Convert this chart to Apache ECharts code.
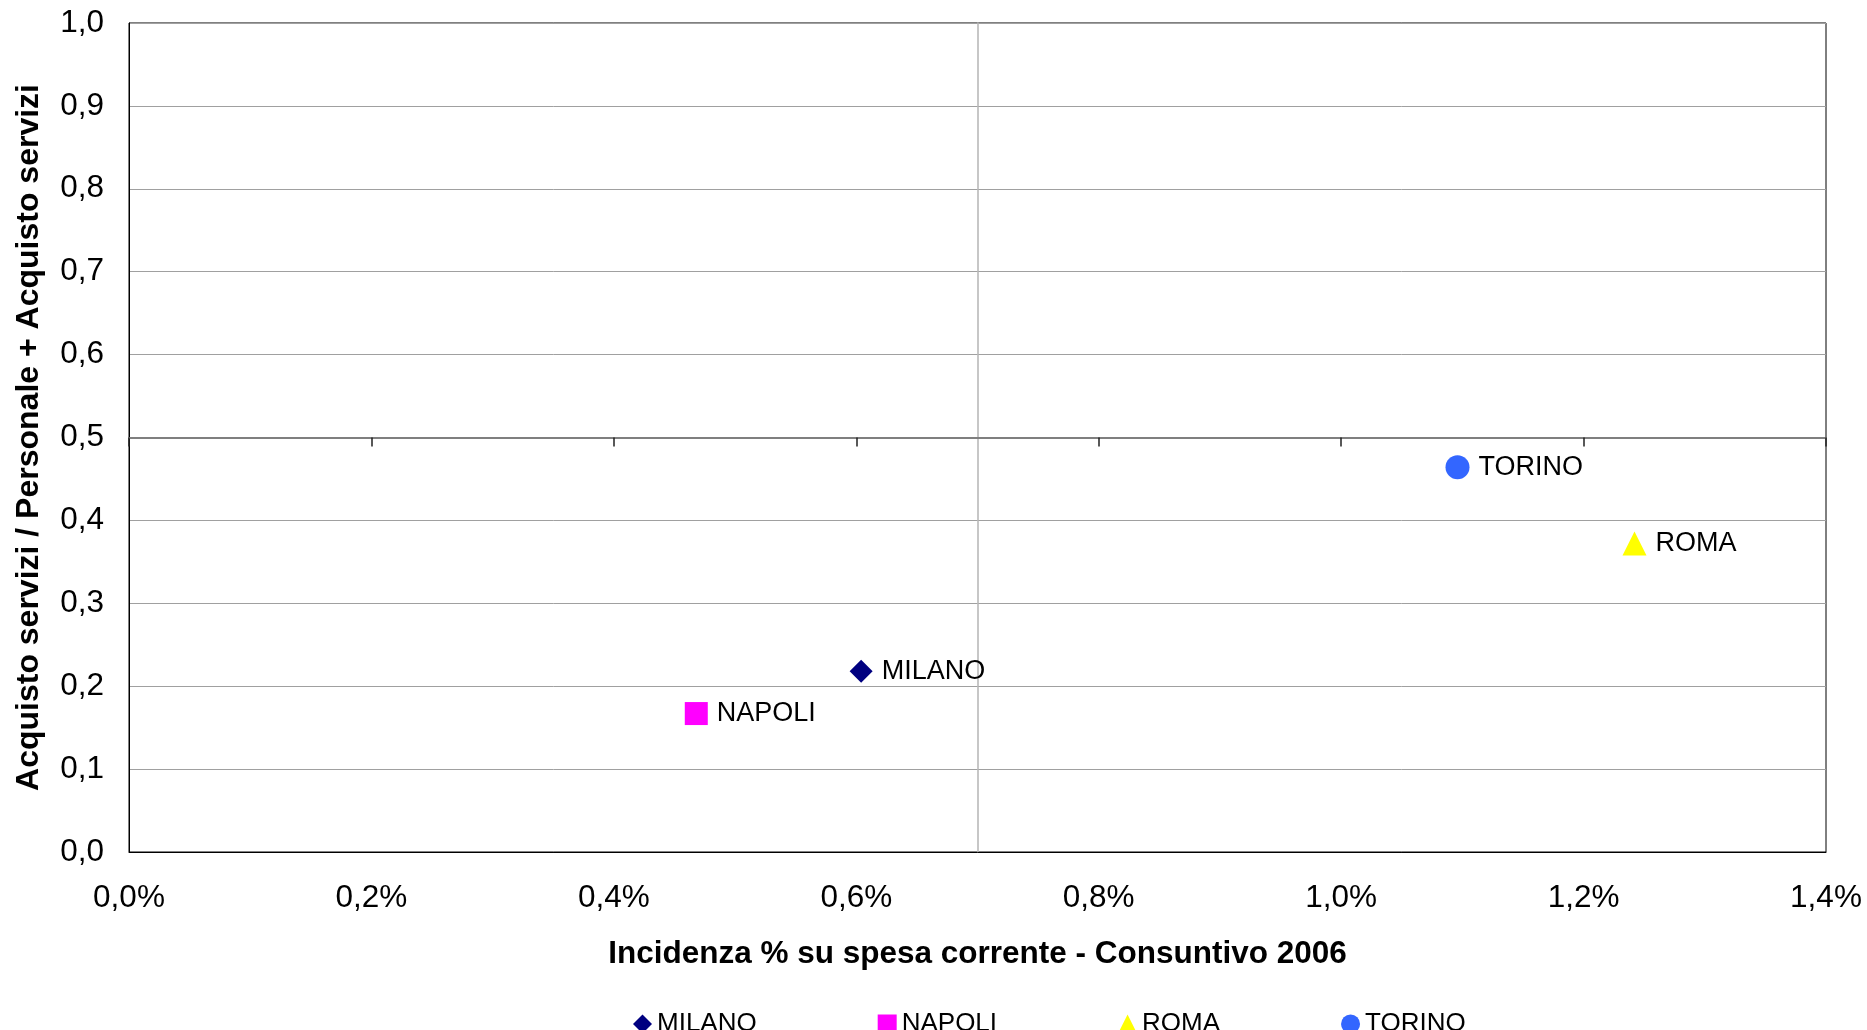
<!DOCTYPE html>
<html>
<head>
<meta charset="utf-8">
<title>Acquisto servizi - Consuntivo 2006</title>
<script src="https://cdn.jsdelivr.net/npm/echarts@6/dist/echarts.min.js"></script>
<style>
  html, body { margin: 0; padding: 0; background: #ffffff; }
  #chart { width: 1867px; height: 1030px; }
</style>
</head>
<body>
<div id="chart"></div>
<script>
// City names, one scatter series each
const cities = ['MILANO', 'NAPOLI', 'ROMA', 'TORINO'];
// Incidenza % su spesa corrente (percent units)
const incidenza = [0.604, 0.468, 1.242, 1.096];
// Acquisto servizi / (Personale + Acquisto servizi)
const rapporto = [0.218, 0.167, 0.372, 0.464];
const symbols = ['diamond', 'rect', 'triangle', 'circle'];
const colors = ['#000080', '#ff00ff', '#ffff00', '#3366ff'];
const symbolSizes = [23, 23, 24, 24];

// Axis ranges and the point where the inner axes cross
const xMin = 0, xMax = 1.4, xStep = 0.2, xCross = 0.7;
const yMin = 0, yMax = 1.0, yStep = 0.1, yCross = 0.5;

const FONT = '"Liberation Sans", Arial, sans-serif';
const GRID = { left: 129, right: 41, top: 23, bottom: 178 };
const plotW = 1867 - GRID.left - GRID.right;
const plotH = 1030 - GRID.top - GRID.bottom;

const comma = (v, d) => v.toFixed(d).replace('.', ',');

const series = cities.map((name, i) => ({
  name: name,
  type: 'scatter',
  xAxisIndex: 0,
  yAxisIndex: 0,
  symbol: symbols[i],
  symbolSize: symbolSizes[i],
  itemStyle: { color: colors[i], opacity: 1 },
  label: {
    show: true,
    position: 'right',
    distance: 9,
    formatter: name,
    color: '#000',
    fontFamily: FONT,
    fontSize: 27
  },
  emphasis: { disabled: true },
  data: [[incidenza[i], rapporto[i]]],
  z: 10
}));

const chart = echarts.init(document.getElementById('chart'), null, { renderer: 'canvas' });
chart.setOption({
  animation: false,
  backgroundColor: '#ffffff',
  grid: Object.assign({
    show: true,
    borderColor: '#000',
    borderWidth: 1,
    backgroundColor: 'transparent',
    containLabel: false,
    outerBoundsMode: 'none'
  }, GRID),
  legend: {
    data: cities,
    left: 633,
    top: 1011,
    padding: 0,
    itemWidth: 19,
    itemHeight: 19,
    itemGap: 121,
    textStyle: { fontFamily: FONT, fontSize: 26, color: '#000' }
  },
  xAxis: [
    {
      type: 'value',
      min: xMin, max: xMax, interval: xStep,
      position: 'bottom',
      name: 'Incidenza % su spesa corrente - Consuntivo 2006',
      nameLocation: 'middle',
      nameGap: 86,
      nameTextStyle: { fontFamily: FONT, fontSize: 31.5, fontWeight: 'bold', color: '#000' },
      axisLine: { show: true, lineStyle: { color: '#000', width: 1 } },
      axisTick: { show: false },
      axisLabel: {
        margin: 30,
        fontFamily: FONT, fontSize: 31.5, color: '#000',
        formatter: v => comma(v, 1) + '%'
      },
      splitLine: { show: false }
    },
    {
      // horizontal axis crossing the plot at y = 0.5
      type: 'value',
      min: xMin, max: xMax, interval: xStep,
      position: 'top',
      offset: -plotH * (yMax - yCross) / (yMax - yMin),
      axisLine: { show: true, lineStyle: { color: '#7f7f7f', width: 2 } },
      axisTick: { show: true, inside: true, length: 9, lineStyle: { color: '#222', width: 1.5 } },
      axisLabel: { show: false },
      splitLine: { show: false }
    }
  ],
  yAxis: [
    {
      type: 'value',
      min: yMin, max: yMax, interval: yStep,
      position: 'left',
      name: 'Acquisto servizi / Personale + Acquisto servizi',
      nameLocation: 'middle',
      nameGap: 84,
      nameTextStyle: { fontFamily: FONT, fontSize: 32, fontWeight: 'bold', color: '#000' },
      axisLine: { show: true, lineStyle: { color: '#000', width: 1 } },
      axisTick: { show: false },
      axisLabel: {
        margin: 25,
        fontFamily: FONT, fontSize: 31.5, color: '#000',
        formatter: v => comma(v, 1)
      },
      splitLine: { show: true, lineStyle: { color: '#a0a0a0', width: 1 } }
    },
    {
      // vertical axis crossing the plot at x = 0.7%
      type: 'value',
      min: yMin, max: yMax, interval: yStep,
      position: 'left',
      offset: -plotW * (xCross - xMin) / (xMax - xMin),
      axisLine: { show: true, lineStyle: { color: '#b4b4b4', width: 1.5 } },
      axisTick: { show: false },
      axisLabel: { show: false },
      splitLine: { show: false }
    }
  ],
  series: series
});
</script>
</body>
</html>
